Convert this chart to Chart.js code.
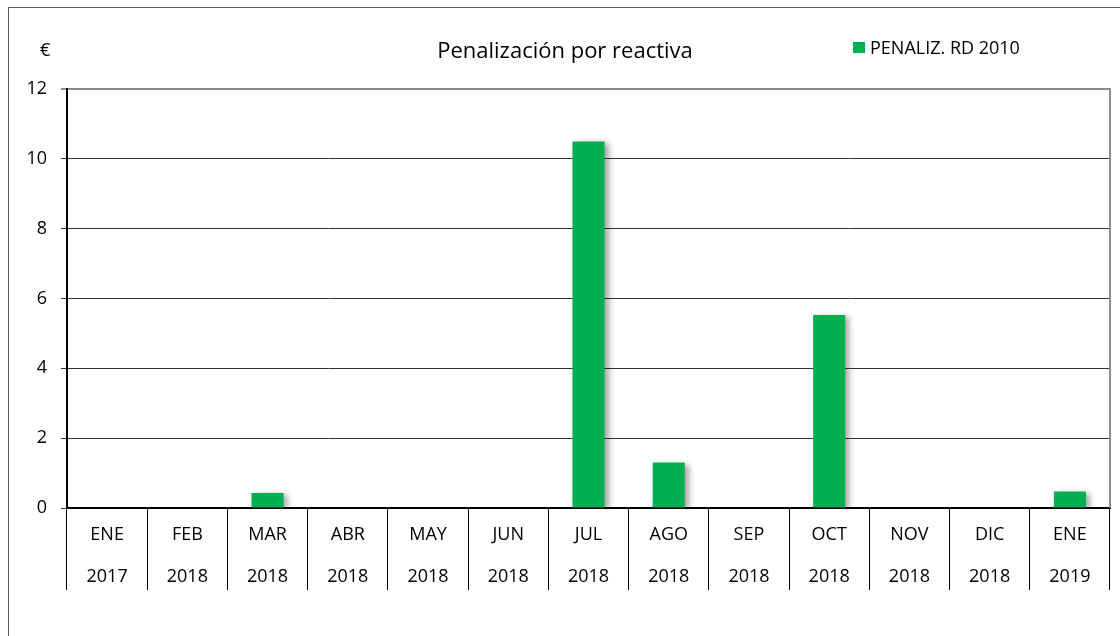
<!DOCTYPE html>
<html>
<head>
<meta charset="utf-8">
<title>Penalización por reactiva</title>
<script src="https://cdn.jsdelivr.net/npm/chart.js@4.4.3/dist/chart.umd.min.js"></script>
<style>
  html, body { margin: 0; padding: 0; background: #fff; overflow: hidden; }
  #wrap { position: relative; width: 1120px; height: 636px; font-family: "Open Sans", sans-serif; color: #000; }
  #frame { position: absolute; left: 8px; top: 7px; width: 1120px; height: 700px; border: 1px solid #595959; }
  #chart { position: absolute; left: 0; top: 0; }
  .txt { position: absolute; white-space: nowrap; line-height: 1; }
  #unit { left: 40px; top: 40px; font-size: 18px; }
  #title { left: 565px; top: 38px; transform: translateX(-50%); font-size: 22px; }
  #legend { left: 853px; top: 38px; font-size: 18px; display: flex; align-items: center; }
  #legend i { display: inline-block; width: 12px; height: 11px; background: #00B050; margin-right: 5px; }
</style>
</head>
<body>
<div id="wrap">
  <div id="frame"></div>
  <canvas id="chart" width="1120" height="636"></canvas>
  <div class="txt" id="unit">€</div>
  <div class="txt" id="title">Penalización por reactiva</div>
  <div class="txt" id="legend"><i></i><span id="legendText"></span></div>
</div>
<script>
// datos
const meses = ["ENE", "FEB", "MAR", "ABR", "MAY", "JUN", "JUL", "AGO", "SEP", "OCT", "NOV", "DIC", "ENE"];
const anios = ["2017", "2018", "2018", "2018", "2018", "2018", "2018", "2018", "2018", "2018", "2018", "2018", "2019"];
const penalizacion = [0, 0, 0.43, 0, 0, 0, 10.5, 1.3, 0, 5.53, 0, 0, 0.47];
const serieNombre = "PENALIZ. RD 2010";
const yTicks = [0, 2, 4, 6, 8, 10, 12];

const VERDE = "#00B050";
document.getElementById("legendText").textContent = serieNombre;

/** Sombra gris a la derecha de las barras, como en Excel. */
const sombraBarras = {
  id: "sombraBarras",
  beforeDatasetsDraw(chart) {
    const ctx = chart.ctx;
    ctx.save();
    ctx.shadowColor = "rgba(0,0,0,0.35)";
    ctx.shadowBlur = 6;
    ctx.shadowOffsetX = 4;
    ctx.shadowOffsetY = 2;
  },
  afterDatasetsDraw(chart) {
    chart.ctx.restore();
  },
};

/** Borde derecho del área de trazado. */
const bordeDerecho = {
  id: "bordeDerecho",
  afterDraw(chart) {
    const { ctx, chartArea } = chart;
    ctx.save();
    ctx.strokeStyle = "#8c8c8c";
    ctx.lineWidth = 2;
    ctx.beginPath();
    ctx.moveTo(chartArea.right, chartArea.top - 1);
    ctx.lineTo(chartArea.right, chartArea.bottom);
    ctx.stroke();
    ctx.restore();
  },
};

const labels = meses.map((m, i) => [m, anios[i]]);

new Chart(document.getElementById("chart"), {
  type: "bar",
  data: {
    labels,
    datasets: [{
      label: serieNombre,
      data: penalizacion,
      backgroundColor: VERDE,
      borderWidth: 0,
      categoryPercentage: 1,
      barPercentage: 0.4,
    }],
  },
  options: {
    responsive: false,
    animation: false,
    layout: { padding: { left: 0, right: 10, top: 89, bottom: 0 } },
    plugins: { legend: { display: false }, title: { display: false }, tooltip: { enabled: false } },
    scales: {
      x: {
        grid: { offset: true, drawOnChartArea: false, color: "#000", lineWidth: 1, tickLength: 82 },
        border: { color: "#000", width: 2 },
        ticks: {
          color: "#000",
          padding: -76,
          maxRotation: 0,
          autoSkip: false,
          font: { family: "Open Sans", size: 18, lineHeight: 42 / 18 },
        },
        afterFit(scale) { scale.height = 128; },
      },
      y: {
        min: 0,
        max: 12,
        afterBuildTicks(scale) { scale.ticks = yTicks.map((v) => ({ value: v })); },
        grid: {
          color: (c) => (c.tick && c.tick.value === 12 ? "#8c8c8c" : "#333"),
          lineWidth: (c) => (c.tick && c.tick.value === 12 ? 2 : 1),
          tickLength: 6,
        },
        border: { color: "#000", width: 2 },
        ticks: { color: "#000", padding: 14, font: { family: "Open Sans", size: 18 } },
        afterFit(scale) { scale.width = 67; },
      },
    },
  },
  plugins: [sombraBarras, bordeDerecho],
});
</script>
</body>
</html>
